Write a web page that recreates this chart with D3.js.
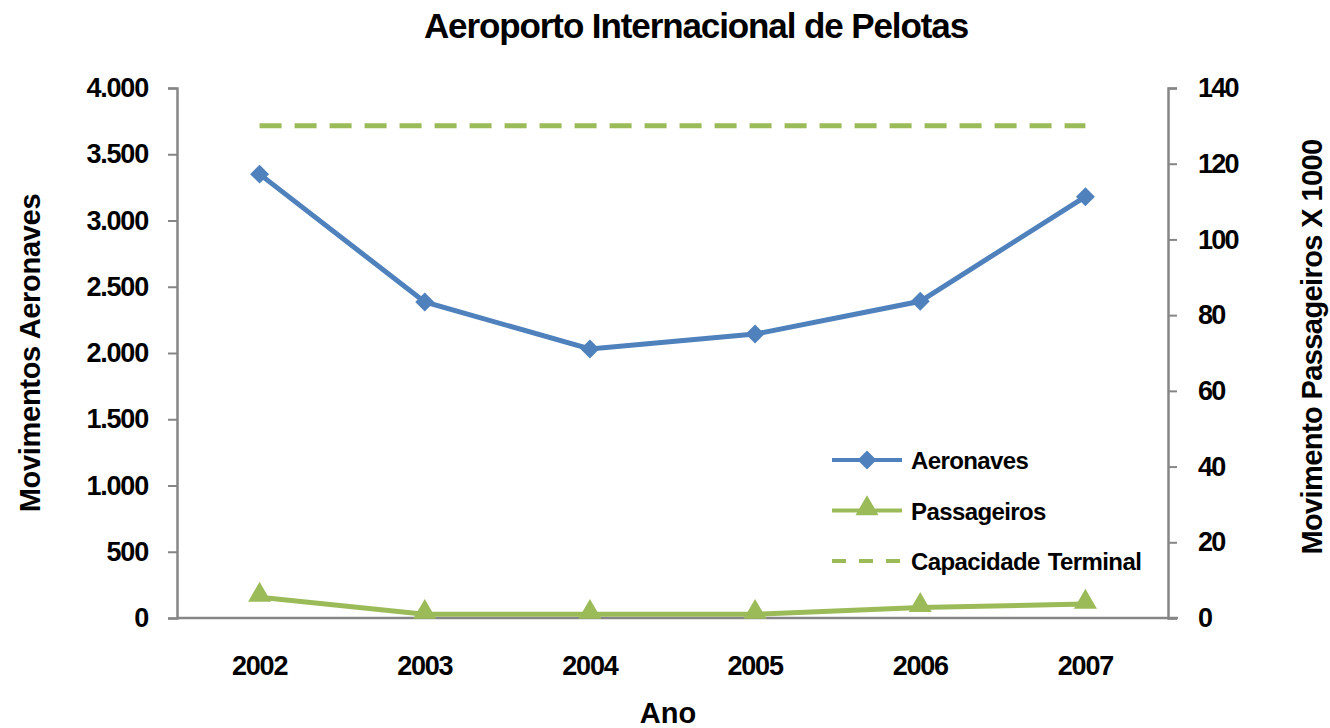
<!DOCTYPE html>
<html>
<head>
<meta charset="utf-8">
<script src="https://cdn.jsdelivr.net/npm/d3@7"></script>
<style>
  body { margin: 0; background: #fff; }
  text { font-family: "Liberation Sans", Arial, sans-serif; font-weight: bold; fill: #000; }
</style>
</head>
<body>
<div id="chart"></div>
<script>
// data
var anos = ["2002", "2003", "2004", "2005", "2006", "2007"];
var aeronaves = [3350, 2385, 2030, 2143, 2390, 3180];
var passageiros = [5.5, 1.0, 1.0, 1.0, 2.8, 3.7];   // x 1000
var capacidade = [130, 130, 130, 130, 130, 130];     // x 1000
var ticksLeft = [0, 500, 1000, 1500, 2000, 2500, 3000, 3500, 4000];
var ticksRight = [0, 20, 40, 60, 80, 100, 120, 140];

var W = 1330, H = 728;
var margin = {top: 88, right: 162, bottom: 110, left: 177};
var w = W - margin.left - margin.right,
    h = H - margin.top - margin.bottom;

var blue = "#4F81BD", green = "#9BBB59", grey = "#868686";

var svg = d3.select("#chart").append("svg")
    .attr("width", W).attr("height", H);
var g = svg.append("g")
    .attr("transform", "translate(" + margin.left + "," + margin.top + ")");

var x = d3.scaleBand().domain(anos).range([0, w]);
var yL = d3.scaleLinear().domain([0, 4000]).range([h, 0]);
var yR = d3.scaleLinear().domain([0, 140]).range([h, 0]);

var fmt = function (d) { return d3.format(",")(d).replace(/,/g, "."); };

// left axis
var axL = g.append("g").call(d3.axisLeft(yL).tickValues(ticksLeft).tickFormat(fmt).tickSize(9).tickPadding(20));
// right axis
var axR = g.append("g").attr("transform", "translate(" + w + ",0)")
    .call(d3.axisRight(yR).tickValues(ticksRight).tickSize(9).tickPadding(21));
// bottom axis
var axB = g.append("g").attr("transform", "translate(0," + h + ")")
    .call(d3.axisBottom(x).tickSize(0).tickPadding(38));

[axL, axR, axB].forEach(function (a) {
  a.select(".domain").attr("stroke", grey).attr("stroke-width", 2.5);
  a.selectAll(".tick line").attr("stroke", grey).attr("stroke-width", 2);
  a.selectAll(".tick text").style("font-size", "27px").style("letter-spacing", "-1.8px")
    .style("font-family", "'Liberation Sans', Arial, sans-serif").style("font-weight", "bold");
});
axL.selectAll(".tick text").style("letter-spacing", "-1.2px");
axB.selectAll(".tick text").style("letter-spacing", "-1.2px");
axB.select(".domain").attr("d", "M0,0H" + (w + 10));

// lines
var cx = function (d, i) { return x(anos[i]) + x.bandwidth() / 2; };

g.append("path").datum(capacidade)
  .attr("fill", "none").attr("stroke", green).attr("stroke-width", 5)
  .attr("stroke-dasharray", "22,13")
  .attr("d", d3.line().x(cx).y(function (d) { return yR(d); }));

g.append("path").datum(aeronaves)
  .attr("fill", "none").attr("stroke", blue).attr("stroke-width", 5)
  .attr("d", d3.line().x(cx).y(function (d) { return yL(d); }));

g.append("path").datum(passageiros)
  .attr("fill", "none").attr("stroke", green).attr("stroke-width", 5)
  .attr("d", d3.line().x(cx).y(function (d) { return yR(d); }));

var diamond = d3.symbol().type(d3.symbolSquare).size(180);
var triangle = d3.symbol().type(d3.symbolTriangle).size(230);

g.selectAll(".diam").data(aeronaves).enter().append("path")
  .attr("d", diamond)
  .attr("fill", blue)
  .attr("transform", function (d, i) { return "translate(" + cx(d, i) + "," + yL(d) + ") rotate(45)"; });

g.selectAll(".tri").data(passageiros).enter().append("path")
  .attr("d", triangle)
  .attr("fill", green)
  .attr("transform", function (d, i) { return "translate(" + cx(d, i) + "," + (yR(d) - 2) + ")"; });

// title and axis labels
svg.append("text").attr("x", 696).attr("y", 38).attr("text-anchor", "middle")
  .style("font-size", "35px").style("letter-spacing", "-1.1px")
  .text("Aeroporto Internacional de Pelotas");

svg.append("text").attr("transform", "translate(40,353) rotate(-90)").attr("text-anchor", "middle")
  .style("font-size", "29px").style("letter-spacing", "-0.3px")
  .text("Movimentos Aeronaves");

svg.append("text").attr("transform", "translate(1322,347) rotate(-90)").attr("text-anchor", "middle")
  .style("font-size", "29px").style("letter-spacing", "-0.6px")
  .text("Movimento Passageiros X 1000");

svg.append("text").attr("x", 668).attr("y", 723).attr("text-anchor", "middle")
  .style("font-size", "29px")
  .text("Ano");

// legend
var legend = [
  {name: "Aeronaves", color: blue, dash: null, mark: diamond, rot: 45},
  {name: "Passageiros", color: green, dash: null, mark: triangle, rot: 0},
  {name: "Capacidade Terminal", color: green, dash: "14,13", mark: null}
];
var lg = svg.append("g").attr("transform", "translate(832,460)");
legend.forEach(function (l, i) {
  var row = lg.append("g").attr("transform", "translate(0," + (i * 50.5) + ")");
  row.append("line").attr("x1", 0).attr("x2", 70).attr("y1", 0).attr("y2", 0)
    .attr("stroke", l.color).attr("stroke-width", 4)
    .attr("stroke-dasharray", l.dash);
  if (l.mark) {
    row.append("path").attr("d", l.mark).attr("fill", l.color)
      .attr("transform", "translate(35," + (l.rot ? 0 : -2) + ") rotate(" + l.rot + ")");
  }
  row.append("text").attr("x", 79).attr("y", 9)
    .style("font-size", "24px").style("letter-spacing", "-0.6px").style("word-spacing", "2px")
    .text(l.name);
});
</script>
</body>
</html>
